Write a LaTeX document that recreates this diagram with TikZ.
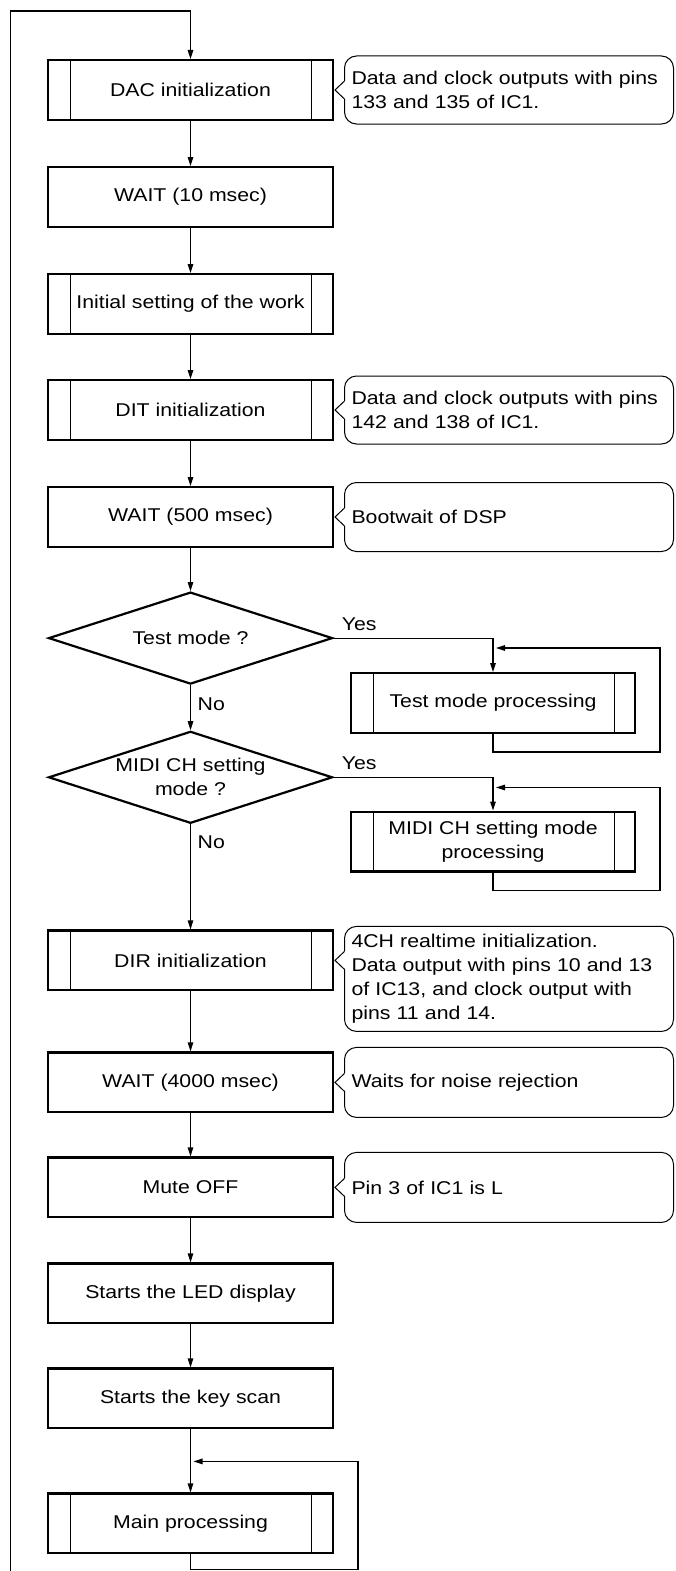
\documentclass[tikz,border=0pt]{standalone}
\usepackage{fontspec}
\setmainfont{Liberation Sans}[FakeStretch=1.15]
\usetikzlibrary{arrows.meta, positioning, shapes.geometric, calc}
\newcommand{\flowfont}{\fontsize{18.5}{24}\selectfont}
\tikzset{
  box/.style={draw, line width=2.3pt, minimum width=284.7pt, minimum height=59.7pt,
              inner sep=2pt, align=center, font=\flowfont},
  pbox/.style={box, path picture={
      \draw[line width=1pt] ([xshift=22pt]path picture bounding box.south west) -- ([xshift=22pt]path picture bounding box.north west);
      \draw[line width=1pt] ([xshift=-21pt]path picture bounding box.south east) -- ([xshift=-21pt]path picture bounding box.north east);}},
  dbox/.style={diamond, draw, line width=2.2pt, aspect=3.1, minimum width=284pt, minimum height=92pt,
               inner sep=0pt, align=center, font=\flowfont},
  note/.style={draw, line width=1pt, rounded corners=12pt, minimum width=329pt, minimum height=68pt,
               text width=315pt, inner sep=7pt, align=left, font=\flowfont},
  lbl/.style={font=\flowfont, inner sep=0pt},
  fl/.style={-{Triangle[length=9pt, width=5.5pt]}, line width=1.2pt},
}
% pointer of a note towards its box
\newcommand{\calloutnotch}[2]{%
  \fill[white] ($(#1.west |- #2.east)+(-0.5,9)$) rectangle ($(#1.west |- #2.east)+(2,-9)$);
  \draw[line width=1pt] ($(#1.west |- #2.east)+(0.5,9)$) -- ($(#2.east)+(1,0)$) -- ($(#1.west |- #2.east)+(0.5,-9)$);}

\begin{document}
\begin{tikzpicture}[x=1pt, y=1pt, node distance=45pt]
  \useasboundingbox (0,0) rectangle (675,-1571);

  % main column
  \node[pbox] (dac) at (190.5,-90) {DAC initialization};
  \node[box, below=of dac] (w10) {WAIT (10 msec)};
  \node[pbox, below=of w10] (init) {Initial setting of the work};
  \node[pbox, below=44pt of init] (dit) {DIT initialization};
  \node[box, below=of dit] (w500) {WAIT (500 msec)};
  \node[dbox, below=43pt of w500] (test) {Test mode ?};
  \node[dbox, below=of test] (midi) {MIDI CH setting\\mode ?};
  \node[pbox, below=105pt of midi] (dir) {DIR initialization};
  \node[box, below=60pt of dir] (w4000) {WAIT (4000 msec)};
  \node[box, below=43pt of w4000] (mute) {Mute OFF};
  \node[box, below=44pt of mute] (led) {Starts the LED display};
  \node[box, below=43pt of led] (keys) {Starts the key scan};
  \node[pbox, below=63pt of keys] (mainp) {Main processing};

  % branches
  \node[pbox, minimum width=284pt] (tproc) at (493,-703) {Test mode processing};
  \node[pbox, minimum width=284pt] (mproc) at (493,-841.5) {MIDI CH setting mode\\processing};

  % notes
  \node[note, right=10pt of dac] (ndac) {Data and clock outputs with pins\\133 and 135 of IC1.};
  \node[note, right=10pt of dit] (ndit) {Data and clock outputs with pins\\142 and 138 of IC1.};
  \node[note, right=10pt of w500, minimum height=69pt] (nboot) {Bootwait of DSP};
  \node[note, right=10pt of dir, yshift=-18.5pt, minimum height=105pt] (ndir) {4CH realtime initialization.\\Data output with pins 10 and 13\\of IC13, and clock output with\\pins 11 and 14.};
  \node[note, right=10pt of w4000, minimum height=70pt] (nnoise) {Waits for noise rejection};
  \node[note, right=10pt of mute, minimum height=70pt] (nmute) {Pin 3 of IC1 is L};
  \calloutnotch{ndac}{dac} \calloutnotch{ndit}{dit} \calloutnotch{nboot}{w500}
  \calloutnotch{ndir}{dir} \calloutnotch{nnoise}{w4000} \calloutnotch{nmute}{mute}

  % labels
  \node[lbl, anchor=west] (yes1) at ($(test.east)+(8,14)$) {Yes};
  \node[lbl, anchor=west] (no1) at ($(test.south)+(7,-19)$) {No};
  \node[lbl, anchor=west] (yes2) at ($(midi.east)+(8,14)$) {Yes};
  \node[lbl, anchor=west] (no2) at ($(midi.south)+(7,-18)$) {No};

  % connectors
  \coordinate (back) at (10.5,-1571);
  \draw[fl] (back) |- ($(dac.north)+(0,48)$) -- (dac.north);
  \draw[fl] (dac)--(w10); \draw[fl] (w10)--(init); \draw[fl] (init)--(dit); \draw[fl] (dit)--(w500);
  \draw[fl] (w500)--(test); \draw[fl] (test)--(midi); \draw[fl] (midi)--(dir);
  \draw[fl] (dir)--(w4000); \draw[fl] (w4000)--(mute); \draw[fl] (mute)--(led);
  \draw[fl] (led)--(keys); \draw[fl] (keys)--(mainp);

  \draw[fl] (test.east) -| (tproc.north);
  \coordinate (tjoin) at ($(tproc.north)+(0,24)$);
  \draw[fl] (tproc.south) -- ++(0,-18) -| ($(tjoin)+(167,0)$) -- ($(tjoin)+(3,0)$);

  \draw[fl] (midi.east) -| (mproc.north);
  \coordinate (mjoin) at ($(mproc.north)+(0,23)$);
  \draw[fl] (mproc.south) -- ++(0,-18) -| ($(mjoin)+(167,0)$) -- ($(mjoin)+(3,0)$);

  \coordinate (kjoin) at ($(mainp.north)+(0,31)$);
  \draw[fl] (mainp.south) -- ++(0,-15) -| ($(kjoin)+(167.5,0)$) -- ($(kjoin)+(3,0)$);
\end{tikzpicture}
\end{document}
